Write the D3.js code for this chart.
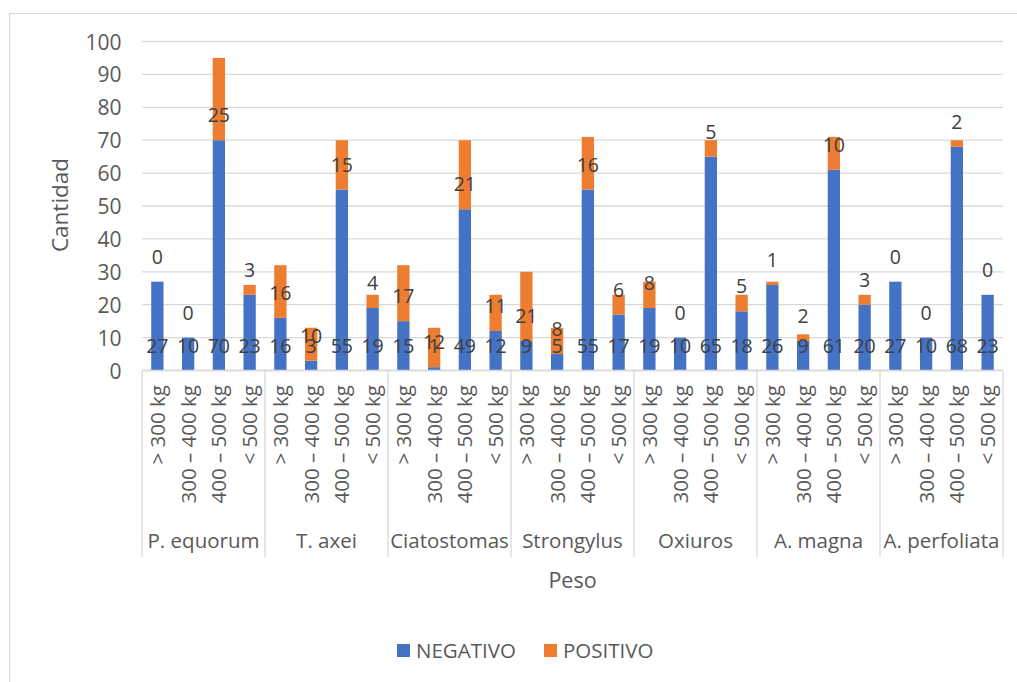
<!DOCTYPE html>
<html>
<head>
<meta charset="utf-8">
<script src="https://cdn.jsdelivr.net/npm/d3@7"></script>
<style>
  html, body { margin: 0; padding: 0; background: #fff; }
  svg { display: block; font-family: "Open Sans", "Noto Sans", sans-serif; }
</style>
</head>
<body>
<svg id="chart" width="1017" height="682"></svg>
<script>
// Parasites grouped by horse weight class: negative / positive counts
const groups = ["P. equorum", "T. axei", "Ciatostomas", "Strongylus", "Oxiuros", "A. magna", "A. perfoliata"];
const weights = ["> 300 kg", "300 – 400 kg", "400 – 500 kg", "< 500 kg"];
const negativo = [27, 10, 70, 23, 16, 3, 55, 19, 15, 1, 49, 12, 9, 5, 55, 17, 19, 10, 65, 18, 26, 9, 61, 20, 27, 10, 68, 23];
const positivo = [0, 0, 25, 3, 16, 10, 15, 4, 17, 12, 21, 11, 21, 8, 16, 6, 8, 0, 5, 5, 1, 2, 10, 3, 0, 0, 2, 0];
const yTicks = [0, 10, 20, 30, 40, 50, 60, 70, 80, 90, 100];
const seriesNames = ["NEGATIVO", "POSITIVO"];
const colors = ["#4472C4", "#ED7D31"];

const svg = d3.select("#chart");
const plot = { left: 142, right: 1003, top: 41.5, bottom: 370.5 };

// chart frame
svg.append("rect")
  .attr("x", 9.5).attr("y", 13.5)
  .attr("width", 1030).attr("height", 700)
  .attr("fill", "#fff").attr("stroke", "#d9d9d9").attr("stroke-width", 1.2);

// one row per bar
const rows = [];
groups.forEach((g, gi) => weights.forEach((w, wi) => {
  const i = gi * weights.length + wi;
  rows.push({ key: g + "|" + w, group: g, weight: w, neg: negativo[i], pos: positivo[i] });
}));

const x = d3.scaleBand()
  .domain(rows.map(d => d.key))
  .range([plot.left, plot.right])
  .paddingInner(0.6).paddingOuter(0.3);

const y = d3.scaleLinear().domain([0, 100]).range([plot.bottom, plot.top]);

// gridlines
svg.append("g")
  .selectAll("line").data(yTicks).join("line")
  .attr("x1", plot.left).attr("x2", plot.right)
  .attr("y1", d => y(d)).attr("y2", d => y(d))
  .attr("stroke", "#d9d9d9").attr("stroke-width", 1.3);

// y axis labels
const yAxis = svg.append("g")
  .attr("transform", `translate(${plot.left - 10},0)`)
  .call(d3.axisLeft(y).tickValues(yTicks).tickSize(0).tickPadding(11));
yAxis.select(".domain").remove();
yAxis.selectAll("text")
  .attr("font-family", "Open Sans").attr("font-size", 21).attr("fill", "#595959")
  .attr("x", -10.5).attr("dy", "0.36em");

// stacked bars
const stack = d3.stack().keys(["neg", "pos"]);
const layers = stack(rows);

const barG = svg.append("g");
layers.forEach((layer, li) => {
  barG.append("g")
    .selectAll("rect").data(layer).join("rect")
    .attr("x", d => x(d.data.key))
    .attr("width", x.bandwidth())
    .attr("y", d => y(d[1]))
    .attr("height", d => y(d[0]) - y(d[1]))
    .attr("fill", colors[li]);
});

// value labels, placed just above each segment's base
const labelG = svg.append("g");
layers.forEach((layer, li) => {
  labelG.append("g")
    .selectAll("text").data(layer).join("text")
    .attr("x", d => x(d.data.key) + x.bandwidth() / 2)
    .attr("y", d => y(d[0]) - 25)
    .attr("dy", "0.36em")
    .attr("text-anchor", "middle")
    .attr("font-size", 19.5)
    .attr("fill", "#404040")
    .text(d => d[1] - d[0]);
});

// category axis: baseline, group separators
const axisColor = "#d9d9d9";
svg.append("line")
  .attr("x1", plot.left).attr("x2", plot.right)
  .attr("y1", plot.bottom).attr("y2", plot.bottom)
  .attr("stroke", axisColor).attr("stroke-width", 1.3);

const groupEdges = groups.map(g => x(g + "|" + weights[0]) - x.step() * x.paddingOuter());
groupEdges.push(plot.right);
svg.append("g")
  .selectAll("line").data(groupEdges).join("line")
  .attr("x1", d => d).attr("x2", d => d)
  .attr("y1", plot.bottom).attr("y2", 557)
  .attr("stroke", axisColor).attr("stroke-width", 1.3);

// weight class labels (rotated)
svg.append("g")
  .selectAll("text").data(rows).join("text")
  .attr("transform", d => `translate(${x(d.key) + x.bandwidth() / 2},385) rotate(-90)`)
  .attr("text-anchor", "end")
  .attr("dy", "0.36em")
  .attr("font-size", 20.5)
  .attr("fill", "#595959")
  .text(d => d.weight);

// group labels
svg.append("g")
  .selectAll("text").data(groups).join("text")
  .attr("x", (g, i) => (groupEdges[i] + groupEdges[i + 1]) / 2)
  .attr("y", 548)
  .attr("text-anchor", "middle")
  .attr("font-size", 20.5)
  .attr("fill", "#595959")
  .text(g => g);

// axis titles
svg.append("text")
  .attr("x", (plot.left + plot.right) / 2).attr("y", 588)
  .attr("text-anchor", "middle")
  .attr("font-size", 21.5).attr("fill", "#595959")
  .text("Peso");

svg.append("text")
  .attr("transform", "translate(60,205) rotate(-90)")
  .attr("text-anchor", "middle").attr("dy", "0.36em")
  .attr("font-size", 22.5).attr("fill", "#595959")
  .text("Cantidad");

// legend
const legendItems = [{ x: 397 }, { x: 544 }];
const legend = svg.append("g");
seriesNames.forEach((name, i) => {
  const lx = legendItems[i].x;
  legend.append("rect")
    .attr("x", lx).attr("y", 644).attr("width", 13).attr("height", 13)
    .attr("fill", colors[i]);
  legend.append("text")
    .attr("x", lx + 19).attr("y", 657.5)
    .attr("font-size", 20.5).attr("fill", "#595959")
    .text(name);
});
</script>
</body>
</html>
